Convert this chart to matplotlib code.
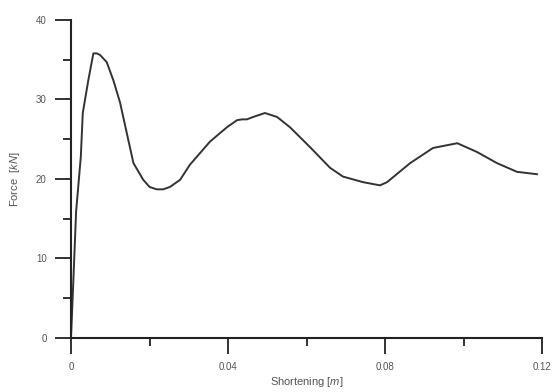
import matplotlib
matplotlib.use("Agg")
import matplotlib.pyplot as plt
from matplotlib.ticker import MultipleLocator

plt.rcParams['font.family'] = ['Liberation Sans', 'DejaVu Sans']
plt.rcParams['mathtext.fontset'] = 'custom'
plt.rcParams['mathtext.rm'] = 'Liberation Sans'
plt.rcParams['mathtext.it'] = 'Liberation Sans:italic'

# shortening [m] vs force [kN]
shortening = [0.0, 0.0005, 0.0013, 0.0025, 0.0030, 0.0044, 0.0057, 0.0066, 0.0074,
              0.0091, 0.0108, 0.0125, 0.0142, 0.0159, 0.0184, 0.0200, 0.0218, 0.0235,
              0.0252, 0.0278, 0.0303, 0.0354, 0.0397, 0.0423, 0.0436, 0.0448, 0.0464,
              0.0494, 0.0525, 0.0558, 0.0609, 0.0660, 0.0693, 0.0744, 0.0787, 0.0805,
              0.0864, 0.0922, 0.0984, 0.1034, 0.1085, 0.1136, 0.1187]
force = [0.0, 6.0, 15.9, 22.8, 28.3, 32.4, 35.8, 35.8, 35.6,
         34.7, 32.4, 29.6, 25.8, 22.0, 19.9, 19.0, 18.7, 18.7,
         19.0, 19.9, 21.8, 24.7, 26.5, 27.4, 27.5, 27.5, 27.8,
         28.3, 27.8, 26.5, 24.0, 21.4, 20.3, 19.6, 19.2, 19.6,
         22.0, 23.9, 24.5, 23.4, 22.0, 20.9, 20.6]

xticks = [0, 0.04, 0.08, 0.12]
xticklabels = ['0', '0.04', '0.08', '0.12']
yticks = [0, 10, 20, 30, 40]

fig = plt.figure(figsize=(5.56, 3.92), dpi=100)
ax = fig.add_axes([0.1277, 0.1378, 0.8473, 0.8112])

ax.plot(shortening, force, color='#333333', linewidth=1.4)

ax.set_xlim(0, 0.12)
ax.set_ylim(0, 40)
ax.set_xticks(xticks)
ax.set_xticklabels(xticklabels)
ax.set_yticks(yticks)
ax.xaxis.set_minor_locator(MultipleLocator(0.02))
ax.yaxis.set_minor_locator(MultipleLocator(5))

for s in ['top', 'right']:
    ax.spines[s].set_visible(False)
for s in ['left', 'bottom']:
    ax.spines[s].set_linewidth(1.5)
    ax.spines[s].set_color('#222222')

ax.tick_params(which='major', direction='out', length=11.5, width=1.3,
               color='#222222', labelsize=7, labelcolor='#555555', pad=6)
ax.tick_params(which='minor', direction='out', length=6, width=1.3, color='#222222')

ax.set_xlabel(r'Shortening $\mathit{[m]}$', fontsize=8, color='#555555', labelpad=2)
ax.set_ylabel(r'Force  $\mathit{[kN]}$', fontsize=8, color='#555555', labelpad=10)

fig.savefig('out.png', dpi=100)
